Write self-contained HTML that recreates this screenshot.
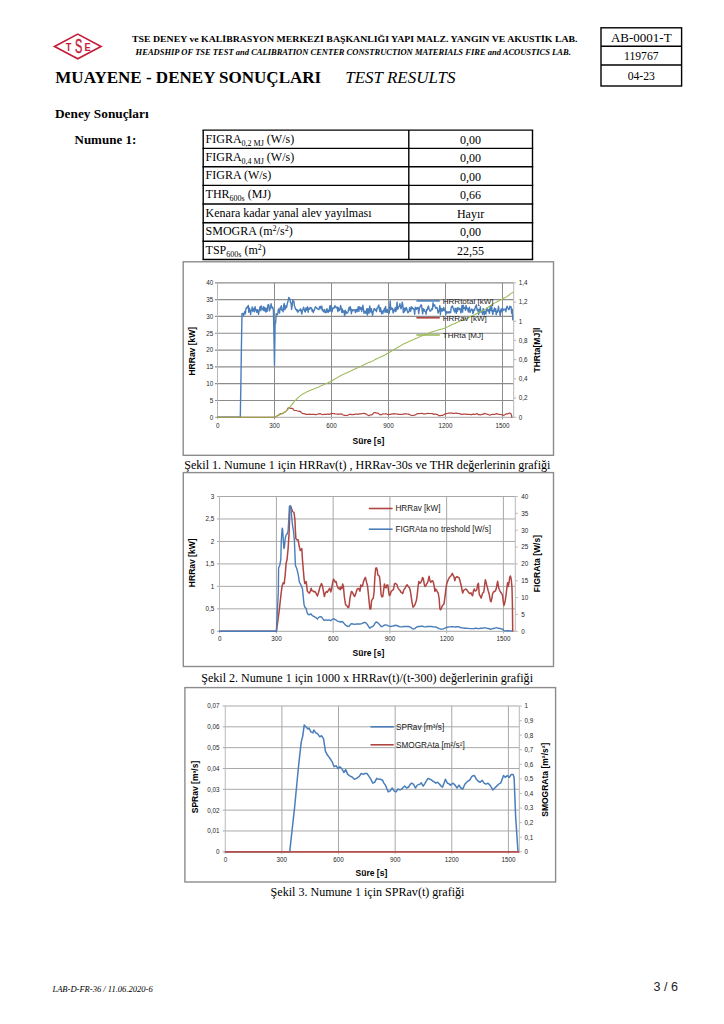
<!DOCTYPE html>
<html lang="tr"><head><meta charset="utf-8"><title>Muayene - Deney Sonuçları</title>
<style>
html,body{margin:0;padding:0;background:#fff;}
#pg{position:relative;width:724px;height:1024px;overflow:hidden;background:#fff;}
svg{position:absolute;left:0;top:0;display:block;}
</style></head><body><div id="pg">
<svg width="724" height="1024" viewBox="0 0 724 1024">
<g>
<polygon points="54.5,46.45 77.75,34.1 101.0,46.45 77.75,58.8" fill="none" stroke="#c41e3a" stroke-width="1.7"/>
<text transform="translate(68.6,50.9) scale(0.82,1)" font-size="11.3" font-family='"Liberation Sans", Arial, sans-serif' font-weight="bold" text-anchor="middle" fill="#c41e3a">T</text>
<text transform="translate(78.6,53.2) scale(0.56,1)" font-size="19.5" font-family='"Liberation Sans", Arial, sans-serif' text-anchor="middle" fill="#c41e3a" stroke="#c41e3a" stroke-width="0.5">S</text>
<text transform="translate(87.5,50.9) scale(0.82,1)" font-size="11.3" font-family='"Liberation Sans", Arial, sans-serif' font-weight="bold" text-anchor="middle" fill="#c41e3a">E</text>
</g>
<text x="132" y="41.6" font-size="8.7" font-family='"Liberation Serif", "Times New Roman", serif' font-weight="bold" textLength="445.5" lengthAdjust="spacingAndGlyphs" fill="#000">TSE DENEY ve KALİBRASYON MERKEZİ BAŞKANLIĞI YAPI MALZ. YANGIN VE AKUSTİK LAB.</text>
<text x="135.6" y="54.7" font-size="7.9" font-family='"Liberation Serif", "Times New Roman", serif' font-weight="bold" font-style="italic" textLength="435.2" lengthAdjust="spacingAndGlyphs" fill="#000">HEADSHIP OF TSE TEST and CALIBRATION CENTER CONSTRUCTION MATERIALS FIRE and ACOUSTICS LAB.</text>
<rect x="601" y="27.8" width="80.6" height="58.2" stroke="#000" stroke-width="1.4" fill="none"/>
<line x1="601" y1="46.2" x2="681.6" y2="46.2" stroke="#000" stroke-width="1.4"/>
<line x1="601" y1="65.0" x2="681.6" y2="65.0" stroke="#000" stroke-width="1.4"/>
<text x="641.3" y="41.8" font-size="13" font-family='"Liberation Serif", "Times New Roman", serif' text-anchor="middle" fill="#000">AB-0001-T</text>
<text x="641.3" y="59.7" font-size="11.7" font-family='"Liberation Serif", "Times New Roman", serif' text-anchor="middle" fill="#000">119767</text>
<text x="641.3" y="79.5" font-size="11.7" font-family='"Liberation Serif", "Times New Roman", serif' text-anchor="middle" fill="#000">04-23</text>
<text x="55.3" y="82.7" font-size="16" font-family='"Liberation Serif", "Times New Roman", serif' font-weight="bold" textLength="265.9" lengthAdjust="spacingAndGlyphs" fill="#000">MUAYENE - DENEY SONUÇLARI</text>
<text x="345.3" y="82.7" font-size="16.5" font-family='"Liberation Serif", "Times New Roman", serif' font-style="italic" textLength="110.1" lengthAdjust="spacingAndGlyphs" fill="#000">TEST RESULTS</text>
<text x="55" y="117.5" font-size="13" font-family='"Liberation Serif", "Times New Roman", serif' font-weight="bold" textLength="93.6" lengthAdjust="spacingAndGlyphs" fill="#000">Deney Sonuçları</text>
<text x="74.5" y="143.8" font-size="13" font-family='"Liberation Serif", "Times New Roman", serif' font-weight="bold" fill="#000">Numune 1:</text>
<line x1="202.5" y1="130.1" x2="533.2" y2="130.1" stroke="#000" stroke-width="1.4"/>
<line x1="202.5" y1="148.4" x2="533.2" y2="148.4" stroke="#000" stroke-width="1.4"/>
<line x1="202.5" y1="166.8" x2="533.2" y2="166.8" stroke="#000" stroke-width="1.4"/>
<line x1="202.5" y1="185.4" x2="533.2" y2="185.4" stroke="#000" stroke-width="1.4"/>
<line x1="202.5" y1="204.0" x2="533.2" y2="204.0" stroke="#000" stroke-width="1.4"/>
<line x1="202.5" y1="222.7" x2="533.2" y2="222.7" stroke="#000" stroke-width="1.4"/>
<line x1="202.5" y1="241.3" x2="533.2" y2="241.3" stroke="#000" stroke-width="1.4"/>
<line x1="202.5" y1="259.5" x2="533.2" y2="259.5" stroke="#000" stroke-width="1.4"/>
<line x1="203.2" y1="130.1" x2="203.2" y2="259.5" stroke="#000" stroke-width="1.4"/>
<line x1="408.8" y1="130.1" x2="408.8" y2="259.5" stroke="#000" stroke-width="1.4"/>
<line x1="532.5" y1="130.1" x2="532.5" y2="259.5" stroke="#000" stroke-width="1.4"/>
<text x="205.6" y="142.7" font-size="12" font-family='"Liberation Serif", "Times New Roman", serif' fill="#000">FIGRA<tspan font-size="8" dy="3">0,2 MJ</tspan><tspan dy="-3"> (W/s)</tspan></text>
<text x="470.6" y="143.79999999999998" font-size="12" font-family='"Liberation Serif", "Times New Roman", serif' text-anchor="middle" fill="#000">0,00</text>
<text x="205.6" y="161.0" font-size="12" font-family='"Liberation Serif", "Times New Roman", serif' fill="#000">FIGRA<tspan font-size="8" dy="3">0,4 MJ</tspan><tspan dy="-3"> (W/s)</tspan></text>
<text x="470.6" y="162.1" font-size="12" font-family='"Liberation Serif", "Times New Roman", serif' text-anchor="middle" fill="#000">0,00</text>
<text x="205.6" y="179.4" font-size="12" font-family='"Liberation Serif", "Times New Roman", serif' fill="#000">FIGRA (W/s)</text>
<text x="470.6" y="180.5" font-size="12" font-family='"Liberation Serif", "Times New Roman", serif' text-anchor="middle" fill="#000">0,00</text>
<text x="205.6" y="198.0" font-size="12" font-family='"Liberation Serif", "Times New Roman", serif' fill="#000">THR<tspan font-size="8" dy="3">600s</tspan><tspan dy="-3"> (MJ)</tspan></text>
<text x="470.6" y="199.1" font-size="12" font-family='"Liberation Serif", "Times New Roman", serif' text-anchor="middle" fill="#000">0,66</text>
<text x="205.6" y="216.6" font-size="12" font-family='"Liberation Serif", "Times New Roman", serif' fill="#000">Kenara kadar yanal alev yayılması</text>
<text x="470.6" y="217.7" font-size="12" font-family='"Liberation Serif", "Times New Roman", serif' text-anchor="middle" fill="#000">Hayır</text>
<text x="205.6" y="235.29999999999998" font-size="12" font-family='"Liberation Serif", "Times New Roman", serif' fill="#000">SMOGRA (m<tspan font-size="8" dy="-4">2</tspan><tspan dy="4">/s</tspan><tspan font-size="8" dy="-4">2</tspan><tspan dy="4">)</tspan></text>
<text x="470.6" y="236.39999999999998" font-size="12" font-family='"Liberation Serif", "Times New Roman", serif' text-anchor="middle" fill="#000">0,00</text>
<text x="205.6" y="253.9" font-size="12" font-family='"Liberation Serif", "Times New Roman", serif' fill="#000">TSP<tspan font-size="8" dy="3">600s</tspan><tspan dy="-3"> (m</tspan><tspan font-size="8" dy="-4">2</tspan><tspan dy="4">)</tspan></text>
<text x="470.6" y="255.0" font-size="12" font-family='"Liberation Serif", "Times New Roman", serif' text-anchor="middle" fill="#000">22,55</text>
<rect x="183.2" y="261.8" width="370.3" height="193.5" stroke="#8c8c8c" stroke-width="1.4" fill="#fff"/>
<line x1="215.0" y1="400.4875" x2="513.7" y2="400.4875" stroke="#8c8c8c" stroke-width="1.2"/>
<line x1="215.0" y1="383.675" x2="513.7" y2="383.675" stroke="#8c8c8c" stroke-width="1.2"/>
<line x1="215.0" y1="366.8625" x2="513.7" y2="366.8625" stroke="#8c8c8c" stroke-width="1.2"/>
<line x1="215.0" y1="350.05" x2="513.7" y2="350.05" stroke="#8c8c8c" stroke-width="1.2"/>
<line x1="215.0" y1="333.2375" x2="513.7" y2="333.2375" stroke="#8c8c8c" stroke-width="1.2"/>
<line x1="215.0" y1="316.425" x2="513.7" y2="316.425" stroke="#8c8c8c" stroke-width="1.2"/>
<line x1="215.0" y1="299.6125" x2="513.7" y2="299.6125" stroke="#8c8c8c" stroke-width="1.2"/>
<line x1="215.0" y1="282.8" x2="513.7" y2="282.8" stroke="#8c8c8c" stroke-width="1.2"/>
<line x1="274.5" y1="282.8" x2="274.5" y2="419.3" stroke="#8c8c8c" stroke-width="1"/>
<line x1="331.5" y1="282.8" x2="331.5" y2="419.3" stroke="#8c8c8c" stroke-width="1"/>
<line x1="388.5" y1="282.8" x2="388.5" y2="419.3" stroke="#8c8c8c" stroke-width="1"/>
<line x1="445.5" y1="282.8" x2="445.5" y2="419.3" stroke="#8c8c8c" stroke-width="1"/>
<line x1="502.5" y1="282.8" x2="502.5" y2="419.3" stroke="#8c8c8c" stroke-width="1"/>
<line x1="217.5" y1="282.8" x2="217.5" y2="417.3" stroke="#b8b8b8" stroke-width="1"/>
<line x1="513.7" y1="282.8" x2="513.7" y2="417.3" stroke="#b8b8b8" stroke-width="1"/>
<line x1="215.0" y1="417.3" x2="513.7" y2="417.3" stroke="#b8b8b8" stroke-width="1.2"/>
<line x1="217.5" y1="417.3" x2="217.5" y2="419.3" stroke="#b8b8b8" stroke-width="1"/>
<line x1="513.7" y1="417.3" x2="516.2" y2="417.3" stroke="#b8b8b8" stroke-width="1"/>
<line x1="513.7" y1="398.086" x2="516.2" y2="398.086" stroke="#b8b8b8" stroke-width="1"/>
<line x1="513.7" y1="378.872" x2="516.2" y2="378.872" stroke="#b8b8b8" stroke-width="1"/>
<line x1="513.7" y1="359.658" x2="516.2" y2="359.658" stroke="#b8b8b8" stroke-width="1"/>
<line x1="513.7" y1="340.444" x2="516.2" y2="340.444" stroke="#b8b8b8" stroke-width="1"/>
<line x1="513.7" y1="321.23" x2="516.2" y2="321.23" stroke="#b8b8b8" stroke-width="1"/>
<line x1="513.7" y1="302.016" x2="516.2" y2="302.016" stroke="#b8b8b8" stroke-width="1"/>
<line x1="513.7" y1="282.802" x2="516.2" y2="282.802" stroke="#b8b8b8" stroke-width="1"/>
<text x="213.2" y="419.7" font-size="6.3" font-family='"Liberation Sans", Arial, sans-serif' text-anchor="end" fill="#262626">0</text>
<text x="213.2" y="402.89" font-size="6.3" font-family='"Liberation Sans", Arial, sans-serif' text-anchor="end" fill="#262626">5</text>
<text x="213.2" y="386.07" font-size="6.3" font-family='"Liberation Sans", Arial, sans-serif' text-anchor="end" fill="#262626">10</text>
<text x="213.2" y="369.26" font-size="6.3" font-family='"Liberation Sans", Arial, sans-serif' text-anchor="end" fill="#262626">15</text>
<text x="213.2" y="352.45" font-size="6.3" font-family='"Liberation Sans", Arial, sans-serif' text-anchor="end" fill="#262626">20</text>
<text x="213.2" y="335.64" font-size="6.3" font-family='"Liberation Sans", Arial, sans-serif' text-anchor="end" fill="#262626">25</text>
<text x="213.2" y="318.82" font-size="6.3" font-family='"Liberation Sans", Arial, sans-serif' text-anchor="end" fill="#262626">30</text>
<text x="213.2" y="302.01" font-size="6.3" font-family='"Liberation Sans", Arial, sans-serif' text-anchor="end" fill="#262626">35</text>
<text x="213.2" y="285.2" font-size="6.3" font-family='"Liberation Sans", Arial, sans-serif' text-anchor="end" fill="#262626">40</text>
<text x="518.8" y="419.7" font-size="6.3" font-family='"Liberation Sans", Arial, sans-serif' fill="#262626">0</text>
<text x="518.8" y="400.49" font-size="6.3" font-family='"Liberation Sans", Arial, sans-serif' fill="#262626">0,2</text>
<text x="518.8" y="381.27" font-size="6.3" font-family='"Liberation Sans", Arial, sans-serif' fill="#262626">0,4</text>
<text x="518.8" y="362.06" font-size="6.3" font-family='"Liberation Sans", Arial, sans-serif' fill="#262626">0,6</text>
<text x="518.8" y="342.84" font-size="6.3" font-family='"Liberation Sans", Arial, sans-serif' fill="#262626">0,8</text>
<text x="518.8" y="323.63" font-size="6.3" font-family='"Liberation Sans", Arial, sans-serif' fill="#262626">1</text>
<text x="518.8" y="304.42" font-size="6.3" font-family='"Liberation Sans", Arial, sans-serif' fill="#262626">1,2</text>
<text x="518.8" y="285.2" font-size="6.3" font-family='"Liberation Sans", Arial, sans-serif' fill="#262626">1,4</text>
<text x="217.7" y="427.6" font-size="6.3" font-family='"Liberation Sans", Arial, sans-serif' text-anchor="middle" fill="#262626">0</text>
<text x="274.5" y="427.6" font-size="6.3" font-family='"Liberation Sans", Arial, sans-serif' text-anchor="middle" fill="#262626">300</text>
<text x="331.5" y="427.6" font-size="6.3" font-family='"Liberation Sans", Arial, sans-serif' text-anchor="middle" fill="#262626">600</text>
<text x="388.5" y="427.6" font-size="6.3" font-family='"Liberation Sans", Arial, sans-serif' text-anchor="middle" fill="#262626">900</text>
<text x="445.5" y="427.6" font-size="6.3" font-family='"Liberation Sans", Arial, sans-serif' text-anchor="middle" fill="#262626">1200</text>
<text x="502.5" y="427.6" font-size="6.3" font-family='"Liberation Sans", Arial, sans-serif' text-anchor="middle" fill="#262626">1500</text>
<text x="368.4" y="444.0" font-size="8.5" font-family='"Liberation Sans", Arial, sans-serif' font-weight="bold" text-anchor="middle" fill="#000">Süre [s]</text>
<g transform="translate(194.6,351.2) rotate(-90)">
<text x="0" y="0" font-size="8.5" font-family='"Liberation Sans", Arial, sans-serif' font-weight="bold" text-anchor="middle" fill="#000">HRRav [kW]</text>
</g>
<g transform="translate(539.9,350.1) rotate(-90)">
<text x="0" y="0" font-size="8.5" font-family='"Liberation Sans", Arial, sans-serif' font-weight="bold" text-anchor="middle" fill="#000">THRta[MJ]l</text>
</g>
<polyline points="217.5,417.3 218.1,417.3 218.6,417.3 219.2,417.3 219.8,417.3 220.3,417.3 220.9,417.3 221.5,417.3 222.1,417.3 222.6,417.3 223.2,417.3 223.8,417.3 224.3,417.3 224.9,417.3 225.5,417.3 226.1,417.3 226.6,417.3 227.2,417.3 227.8,417.3 228.3,417.3 228.9,417.3 229.5,417.3 230.0,417.3 230.6,417.3 231.2,417.3 231.8,417.3 232.3,417.3 232.9,417.3 233.5,417.3 234.0,417.3 234.6,417.3 235.2,417.3 235.7,417.3 236.3,417.3 236.9,417.3 237.4,417.3 238.0,417.3 238.6,417.3 239.2,417.3 239.7,417.3 240.3,417.3 240.9,382.6 241.4,347.8 242.0,313.6 242.6,313.5 243.2,313.6 243.7,315.7 244.3,312.8 244.9,311.4 245.4,313.7 246.0,308.3 246.6,307.5 247.1,307.9 247.7,306.6 248.3,305.4 248.8,312.2 249.4,308.3 250.0,310.0 250.6,314.5 251.1,310.2 251.7,310.2 252.3,307.0 252.8,311.6 253.4,309.2 254.0,308.3 254.6,311.8 255.1,306.6 255.7,310.0 256.3,309.7 256.8,312.4 257.4,309.6 258.0,310.5 258.5,314.3 259.1,311.1 259.7,308.5 260.2,306.5 260.8,310.7 261.4,305.9 262.0,308.7 262.5,309.0 263.1,310.2 263.7,306.6 264.2,311.0 264.8,307.6 265.4,308.4 265.9,312.1 266.5,308.4 267.1,311.4 267.7,305.9 268.2,304.5 268.8,305.1 269.4,310.9 269.9,309.6 270.5,306.9 271.1,303.8 271.6,306.3 272.2,308.2 272.8,307.4 273.4,310.3 273.9,333.2 274.5,365.2 275.1,323.2 275.6,323.2 276.2,313.8 276.8,314.0 277.4,314.7 277.9,312.7 278.5,308.9 279.1,310.5 279.6,313.0 280.2,307.4 280.8,309.0 281.3,305.8 281.9,310.4 282.5,309.8 283.1,311.9 283.6,305.7 284.2,303.5 284.8,309.8 285.3,308.5 285.9,305.8 286.5,307.5 287.0,305.4 287.6,302.7 288.2,300.4 288.8,297.4 289.3,298.0 289.9,299.1 290.5,302.7 291.0,302.6 291.6,309.4 292.2,305.4 292.7,300.3 293.3,302.4 293.9,301.2 294.4,306.0 295.0,307.3 295.6,309.2 296.2,309.1 296.7,310.9 297.3,309.8 297.9,312.3 298.4,311.1 299.0,310.3 299.6,310.6 300.1,309.3 300.7,308.9 301.3,312.0 301.9,314.0 302.4,310.3 303.0,309.7 303.6,307.1 304.1,309.1 304.7,311.3 305.3,311.9 305.9,307.9 306.4,310.3 307.0,307.8 307.6,306.8 308.1,312.3 308.7,308.4 309.3,308.2 309.8,309.3 310.4,307.4 311.0,308.1 311.6,308.0 312.1,311.2 312.7,309.6 313.3,312.5 313.8,310.9 314.4,310.2 315.0,307.7 315.5,306.7 316.1,307.2 316.7,308.4 317.2,308.5 317.8,309.1 318.4,309.1 319.0,309.6 319.5,306.6 320.1,307.7 320.7,306.4 321.2,308.8 321.8,306.2 322.4,310.7 322.9,309.9 323.5,311.1 324.1,312.2 324.7,309.4 325.2,311.8 325.8,312.7 326.4,312.2 326.9,308.6 327.5,310.2 328.1,312.6 328.6,310.2 329.2,311.4 329.8,305.9 330.4,311.0 330.9,305.5 331.5,307.0 332.1,311.7 332.6,308.9 333.2,308.0 333.8,308.2 334.4,307.5 334.9,305.6 335.5,306.6 336.1,307.8 336.6,307.7 337.2,307.0 337.8,311.6 338.3,307.6 338.9,309.8 339.5,310.4 340.1,308.4 340.6,305.4 341.2,308.4 341.8,312.3 342.3,308.9 342.9,312.3 343.5,310.9 344.0,311.1 344.6,315.8 345.2,310.1 345.8,313.8 346.3,311.8 346.9,312.8 347.5,313.0 348.0,312.0 348.6,309.3 349.2,307.2 349.7,310.0 350.3,306.8 350.9,309.5 351.4,313.7 352.0,309.5 352.6,310.5 353.2,310.8 353.7,309.7 354.3,309.7 354.9,310.2 355.4,312.5 356.0,309.4 356.6,309.4 357.1,311.8 357.7,309.2 358.3,306.8 358.9,311.4 359.4,306.9 360.0,307.4 360.6,309.3 361.1,307.6 361.7,311.5 362.3,307.9 362.9,305.3 363.4,308.9 364.0,313.2 364.6,312.1 365.1,311.1 365.7,313.2 366.3,313.4 366.8,308.7 367.4,315.1 368.0,308.6 368.6,310.5 369.1,313.3 369.7,306.0 370.3,308.8 370.8,312.1 371.4,308.7 372.0,312.4 372.5,315.4 373.1,312.3 373.7,309.9 374.2,308.4 374.8,309.3 375.4,310.4 376.0,309.2 376.5,311.6 377.1,308.1 377.7,307.7 378.2,306.4 378.8,305.0 379.4,309.3 379.9,311.6 380.5,307.6 381.1,310.9 381.7,313.7 382.2,311.3 382.8,313.5 383.4,310.5 383.9,310.9 384.5,308.2 385.1,312.4 385.6,306.5 386.2,310.8 386.8,312.3 387.4,309.5 387.9,312.4 388.5,311.6 389.1,313.5 389.6,309.4 390.2,300.9 390.8,309.8 391.4,307.8 391.9,309.1 392.5,308.3 393.1,313.0 393.6,311.9 394.2,309.4 394.8,310.9 395.3,307.5 395.9,311.6 396.5,308.9 397.1,302.1 397.6,309.3 398.2,308.3 398.8,306.9 399.3,306.5 399.9,303.6 400.5,306.9 401.0,308.7 401.6,306.8 402.2,302.1 402.8,304.6 403.3,312.7 403.9,308.1 404.5,311.8 405.0,308.2 405.6,310.2 406.2,307.4 406.7,308.6 407.3,310.8 407.9,312.8 408.4,311.9 409.0,311.8 409.6,307.7 410.2,309.6 410.7,311.2 411.3,306.8 411.9,308.7 412.4,307.4 413.0,308.9 413.6,308.8 414.1,310.1 414.7,314.3 415.3,307.2 415.9,307.8 416.4,309.4 417.0,307.6 417.6,308.5 418.1,307.4 418.7,313.6 419.3,309.0 419.9,307.1 420.4,306.1 421.0,304.8 421.6,305.5 422.1,310.1 422.7,313.8 423.3,308.6 423.8,310.9 424.4,309.6 425.0,311.6 425.6,311.6 426.1,314.2 426.7,309.4 427.3,309.8 427.8,307.3 428.4,306.0 429.0,308.9 429.5,310.0 430.1,311.2 430.7,311.0 431.2,309.8 431.8,308.7 432.4,309.5 433.0,302.7 433.5,306.2 434.1,305.0 434.7,304.9 435.2,306.9 435.8,308.4 436.4,307.6 436.9,307.5 437.5,309.6 438.1,313.1 438.7,311.5 439.2,310.4 439.8,305.6 440.4,314.8 440.9,308.1 441.5,311.0 442.1,308.7 442.6,311.0 443.2,309.9 443.8,307.4 444.4,310.5 444.9,309.6 445.5,311.6 446.1,314.1 446.6,311.5 447.2,312.0 447.8,312.7 448.4,311.9 448.9,313.0 449.5,311.7 450.1,312.6 450.6,312.6 451.2,307.3 451.8,307.4 452.3,305.8 452.9,307.2 453.5,309.2 454.1,310.7 454.6,312.1 455.2,308.2 455.8,309.9 456.3,313.4 456.9,308.3 457.5,311.2 458.0,307.4 458.6,308.9 459.2,309.5 459.8,308.3 460.3,309.6 460.9,313.0 461.5,309.2 462.0,305.4 462.6,312.1 463.2,305.1 463.7,308.6 464.3,307.6 464.9,307.4 465.5,310.4 466.0,305.4 466.6,307.8 467.2,309.2 467.7,308.5 468.3,312.0 468.9,308.6 469.4,307.2 470.0,312.5 470.6,310.5 471.1,310.3 471.7,309.0 472.3,309.6 472.9,313.5 473.4,312.4 474.0,309.4 474.6,310.2 475.1,307.8 475.7,306.7 476.3,304.9 476.9,309.0 477.4,310.6 478.0,309.3 478.6,314.3 479.1,309.4 479.7,312.7 480.3,306.8 480.8,311.3 481.4,312.0 482.0,311.4 482.6,314.3 483.1,308.6 483.7,309.3 484.3,314.9 484.8,312.6 485.4,311.4 486.0,313.7 486.5,308.4 487.1,308.2 487.7,310.6 488.2,311.4 488.8,309.5 489.4,313.4 490.0,307.7 490.5,306.0 491.1,310.6 491.7,306.8 492.2,311.7 492.8,314.4 493.4,310.1 493.9,311.2 494.5,308.0 495.1,311.4 495.7,308.8 496.2,314.7 496.8,311.1 497.4,312.4 497.9,310.5 498.5,306.3 499.1,311.0 499.6,311.8 500.2,315.6 500.8,309.7 501.4,308.9 501.9,311.9 502.5,308.1 503.1,310.5 503.6,309.4 504.2,309.9 504.8,309.1 505.4,308.9 505.9,311.7 506.5,308.0 507.1,306.1 507.6,307.9 508.2,308.2 508.8,309.7 509.3,309.0 509.9,306.2 510.5,306.7 511.1,307.0 511.6,313.2 512.2,309.1 512.8,319.8" fill="none" stroke="#4a7ebb" stroke-width="1.4" stroke-linejoin="round" stroke-linecap="round"/>
<polyline points="217.5,417.3 274.5,417.3 277.4,415.7 279.4,414.4 280.4,413.9 281.3,413.7 282.3,413.7 283.3,413.1 284.3,412.2 285.3,411.9 286.2,411.1 287.2,409.9 287.7,408.7 288.0,408.0 288.7,407.9 289.7,408.1 290.7,408.3 292.1,408.4 293.1,408.9 293.6,409.8 294.1,410.4 295.1,410.5 296.3,410.5 297.5,411.0 298.5,411.3 300.0,411.1 300.7,412.0 301.5,412.7 302.4,413.4 303.0,413.7 303.6,413.6 304.4,413.6 304.9,413.8 305.5,414.3 306.5,414.4 307.8,414.4 308.6,414.3 309.4,414.1 310.3,414.3 311.5,414.3 312.4,414.4 313.2,414.3 314.0,414.4 315.7,414.7 316.9,414.4 318.2,414.0 319.8,413.7 320.7,413.9 321.5,414.2 322.8,414.7 323.6,414.4 324.8,414.3 325.7,414.4 326.5,414.3 327.3,414.2 328.2,414.1 329.0,414.4 329.8,414.2 331.1,413.6 331.9,413.4 332.7,413.5 333.6,413.6 334.4,413.6 335.2,413.8 336.1,414.0 336.9,414.1 337.7,414.0 338.6,414.2 339.4,414.0 340.2,414.1 341.1,413.8 341.9,414.0 342.7,414.7 344.0,415.3 345.2,415.4 346.5,415.5 347.3,415.5 348.6,414.8 349.8,414.3 350.6,414.4 351.9,414.6 353.1,414.7 354.4,414.4 355.6,414.1 357.3,414.1 358.5,414.3 359.3,413.8 360.1,413.9 361.0,413.9 361.8,413.6 362.6,413.5 363.9,413.3 365.1,413.6 366.0,413.9 366.8,414.4 367.6,415.1 368.5,415.6 369.3,415.6 370.1,415.0 371.0,414.9 371.8,414.8 372.6,414.3 373.4,413.2 374.3,412.6 375.1,412.6 375.9,412.8 376.4,413.1 377.2,413.1 378.0,413.2 378.9,413.8 379.7,414.6 380.5,414.7 381.4,414.7 382.2,414.3 383.0,413.8 383.9,414.0 384.7,414.0 385.5,413.8 386.4,413.8 387.2,414.3 388.0,414.6 388.8,414.6 389.7,414.3 390.5,414.3 391.3,414.2 392.2,414.1 393.0,413.8 393.8,413.7 394.7,413.8 395.5,413.8 396.3,414.0 397.2,414.1 398.0,414.2 398.8,414.3 399.7,414.4 400.5,414.4 401.3,414.5 402.2,414.3 403.0,414.1 403.8,414.1 404.7,413.9 405.9,413.8 406.7,413.9 407.6,414.0 408.4,414.1 409.2,414.4 410.1,414.8 410.9,415.2 411.7,415.5 412.6,415.4 413.4,415.3 414.2,415.2 415.1,415.0 415.9,414.6 416.7,414.0 417.6,413.6 418.7,413.7 419.6,413.6 420.4,413.5 421.2,413.3 422.1,413.4 422.9,413.7 423.7,413.9 424.6,413.9 425.4,413.8 426.2,413.7 427.1,413.5 427.9,413.2 428.7,413.5 429.5,413.6 430.4,413.5 431.2,413.5 432.0,413.6 432.9,413.9 433.7,414.3 434.5,414.1 435.4,414.2 436.2,414.4 437.0,414.4 437.9,414.8 438.7,415.6 439.5,415.7 440.4,415.6 441.2,415.4 442.0,415.3 442.9,415.3 443.7,414.8 444.5,414.3 445.4,413.8 446.2,413.6 447.0,413.5 447.9,413.3 448.7,413.2 449.5,413.2 450.4,413.1 451.2,413.0 452.0,413.1 452.9,413.2 453.7,413.5 454.5,413.3 455.4,413.2 456.2,413.2 457.0,413.3 457.9,413.3 458.7,413.5 459.5,413.7 460.3,413.9 461.2,414.3 461.6,414.4 462.4,414.3 463.3,414.2 464.1,414.2 464.9,414.1 465.8,414.2 466.6,414.3 467.4,414.4 468.3,414.4 469.1,414.5 469.9,414.4 470.8,414.6 471.6,414.6 472.4,414.3 473.2,414.1 474.1,414.3 474.9,414.3 475.7,414.2 476.6,413.8 477.4,413.7 478.2,414.6 478.8,414.6 479.5,414.7 480.2,414.8 481.0,414.6 481.7,414.4 482.8,414.4 483.5,413.9 484.3,413.4 485.0,413.6 485.7,413.8 486.5,414.0 487.2,414.3 488.0,414.4 488.7,414.7 489.4,415.0 490.2,415.1 490.9,414.8 491.6,414.5 492.4,414.4 493.5,414.3 494.6,414.3 495.3,414.1 496.1,413.8 496.8,413.6 497.5,414.0 498.3,414.2 499.0,414.3 499.7,414.4 500.8,414.5 501.6,414.6 502.3,415.0 503.0,415.4 503.8,415.2 504.5,414.9 505.3,414.5 506.0,414.0 506.7,413.7 507.5,413.9 508.2,413.6 508.9,413.2 509.7,413.2 510.4,413.4 511.1,414.0 511.5,415.3 511.9,417.3" fill="none" stroke="#b04542" stroke-width="1.2" stroke-linejoin="round" stroke-linecap="round"/>
<polyline points="217.5,417.3 218.1,417.3 218.6,417.3 219.2,417.3 219.8,417.3 220.3,417.3 220.9,417.3 221.5,417.3 222.1,417.3 222.6,417.3 223.2,417.3 223.8,417.3 224.3,417.3 224.9,417.3 225.5,417.3 226.1,417.3 226.6,417.3 227.2,417.3 227.8,417.3 228.3,417.3 228.9,417.3 229.5,417.3 230.0,417.3 230.6,417.3 231.2,417.3 231.8,417.3 232.3,417.3 232.9,417.3 233.5,417.3 234.0,417.3 234.6,417.3 235.2,417.3 235.7,417.3 236.3,417.3 236.9,417.3 237.4,417.3 238.0,417.3 238.6,417.3 239.2,417.3 239.7,417.3 240.3,417.3 240.9,417.3 241.4,417.3 242.0,417.3 242.6,417.3 243.2,417.3 243.7,417.3 244.3,417.3 244.9,417.3 245.4,417.3 246.0,417.3 246.6,417.3 247.1,417.3 247.7,417.3 248.3,417.3 248.8,417.3 249.4,417.3 250.0,417.3 250.6,417.3 251.1,417.3 251.7,417.3 252.3,417.3 252.8,417.3 253.4,417.3 254.0,417.3 254.6,417.3 255.1,417.3 255.7,417.3 256.3,417.3 256.8,417.3 257.4,417.3 258.0,417.3 258.5,417.3 259.1,417.3 259.7,417.3 260.2,417.3 260.8,417.3 261.4,417.3 262.0,417.3 262.5,417.3 263.1,417.3 263.7,417.3 264.2,417.3 264.8,417.3 265.4,417.3 265.9,417.3 266.5,417.3 267.1,417.3 267.7,417.3 268.2,417.3 268.8,417.3 269.4,417.3 269.9,417.3 270.5,417.3 271.1,417.3 271.6,417.3 272.2,417.3 272.8,417.3 273.4,417.3 273.9,417.3 274.5,417.3 275.1,417.0 275.6,416.7 276.2,416.4 276.8,416.1 277.4,415.8 277.9,415.5 278.5,415.2 279.1,415.0 279.6,414.7 280.2,414.5 280.8,414.2 281.3,413.9 281.9,413.6 282.5,413.3 283.1,413.1 283.6,412.8 284.2,412.5 284.8,412.1 285.3,411.6 285.9,411.2 286.5,410.7 287.0,410.2 287.6,409.6 288.2,409.0 288.8,408.5 289.3,407.9 289.9,407.1 290.5,406.4 291.0,405.7 291.6,404.9 292.2,404.2 292.7,403.4 293.3,402.7 293.9,402.0 294.4,401.3 295.0,400.6 295.6,400.1 296.2,399.5 296.7,399.0 297.3,398.4 297.9,397.9 298.4,397.3 299.0,396.8 299.6,396.3 300.1,395.9 300.7,395.4 301.3,395.0 301.9,394.6 302.4,394.3 303.0,393.9 303.6,393.5 304.1,393.2 304.7,392.9 305.3,392.7 305.9,392.4 306.4,392.1 307.0,391.8 307.6,391.6 308.1,391.3 308.7,391.0 309.3,390.8 309.8,390.5 310.4,390.3 311.0,390.1 311.6,389.8 312.1,389.6 312.7,389.4 313.3,389.2 313.8,388.9 314.4,388.7 315.0,388.5 315.5,388.3 316.1,388.1 316.7,387.9 317.2,387.6 317.8,387.4 318.4,387.2 319.0,386.9 319.5,386.6 320.1,386.3 320.7,386.0 321.2,385.8 321.8,385.5 322.4,385.3 322.9,385.0 323.5,384.8 324.1,384.5 324.7,384.3 325.2,384.0 325.8,383.7 326.4,383.5 326.9,383.2 327.5,383.0 328.1,382.7 328.6,382.4 329.2,382.1 329.8,381.9 330.4,381.6 330.9,381.3 331.5,381.0 332.1,380.7 332.6,380.3 333.2,380.0 333.8,379.6 334.4,379.3 334.9,379.0 335.5,378.6 336.1,378.3 336.6,378.0 337.2,377.6 337.8,377.3 338.3,377.0 338.9,376.6 339.5,376.3 340.1,376.0 340.6,375.7 341.2,375.4 341.8,375.1 342.3,374.8 342.9,374.5 343.5,374.3 344.0,374.0 344.6,373.8 345.2,373.5 345.8,373.3 346.3,373.0 346.9,372.8 347.5,372.6 348.0,372.3 348.6,372.0 349.2,371.8 349.7,371.5 350.3,371.2 350.9,370.9 351.4,370.6 352.0,370.4 352.6,370.1 353.2,369.8 353.7,369.6 354.3,369.3 354.9,369.1 355.4,368.8 356.0,368.5 356.6,368.2 357.1,368.0 357.7,367.7 358.3,367.5 358.9,367.2 359.4,366.9 360.0,366.7 360.6,366.4 361.1,366.1 361.7,365.9 362.3,365.6 362.9,365.3 363.4,365.0 364.0,364.7 364.6,364.5 365.1,364.2 365.7,363.9 366.3,363.6 366.8,363.3 367.4,363.1 368.0,362.8 368.6,362.6 369.1,362.4 369.7,362.2 370.3,361.9 370.8,361.7 371.4,361.4 372.0,361.2 372.5,360.9 373.1,360.7 373.7,360.4 374.2,360.1 374.8,359.7 375.4,359.4 376.0,359.1 376.5,358.9 377.1,358.6 377.7,358.3 378.2,358.0 378.8,357.7 379.4,357.5 379.9,357.3 380.5,357.0 381.1,356.8 381.7,356.6 382.2,356.3 382.8,356.0 383.4,355.7 383.9,355.5 384.5,355.2 385.1,354.9 385.6,354.5 386.2,354.2 386.8,353.8 387.4,353.5 387.9,353.2 388.5,352.9 389.1,352.5 389.6,352.2 390.2,351.9 390.8,351.5 391.4,351.2 391.9,350.9 392.5,350.5 393.1,350.2 393.6,349.8 394.2,349.5 394.8,349.1 395.3,348.8 395.9,348.4 396.5,348.1 397.1,347.8 397.6,347.4 398.2,347.1 398.8,346.8 399.3,346.4 399.9,346.1 400.5,345.8 401.0,345.4 401.6,345.1 402.2,344.8 402.8,344.4 403.3,344.1 403.9,343.9 404.5,343.6 405.0,343.4 405.6,343.1 406.2,342.8 406.7,342.5 407.3,342.3 407.9,342.0 408.4,341.7 409.0,341.5 409.6,341.2 410.2,340.9 410.7,340.7 411.3,340.5 411.9,340.2 412.4,340.0 413.0,339.8 413.6,339.5 414.1,339.3 414.7,339.0 415.3,338.8 415.9,338.5 416.4,338.3 417.0,338.0 417.6,337.7 418.1,337.5 418.7,337.2 419.3,336.9 419.9,336.7 420.4,336.4 421.0,336.1 421.6,335.9 422.1,335.7 422.7,335.4 423.3,335.2 423.8,335.0 424.4,334.8 425.0,334.6 425.6,334.3 426.1,334.1 426.7,333.9 427.3,333.7 427.8,333.4 428.4,333.2 429.0,332.9 429.5,332.7 430.1,332.5 430.7,332.3 431.2,332.1 431.8,331.9 432.4,331.8 433.0,331.6 433.5,331.4 434.1,331.3 434.7,331.1 435.2,330.9 435.8,330.7 436.4,330.5 436.9,330.3 437.5,330.2 438.1,330.0 438.7,329.8 439.2,329.7 439.8,329.5 440.4,329.4 440.9,329.2 441.5,329.1 442.1,328.9 442.6,328.7 443.2,328.6 443.8,328.4 444.4,328.2 444.9,328.0 445.5,327.7 446.1,327.5 446.6,327.2 447.2,326.9 447.8,326.7 448.4,326.4 448.9,326.1 449.5,325.9 450.1,325.6 450.6,325.4 451.2,325.1 451.8,324.8 452.3,324.6 452.9,324.3 453.5,324.1 454.1,323.9 454.6,323.6 455.2,323.4 455.8,323.1 456.3,322.8 456.9,322.6 457.5,322.3 458.0,322.0 458.6,321.8 459.2,321.5 459.8,321.3 460.3,321.0 460.9,320.8 461.5,320.5 462.0,320.3 462.6,320.0 463.2,319.8 463.7,319.5 464.3,319.3 464.9,319.0 465.5,318.8 466.0,318.5 466.6,318.2 467.2,318.0 467.7,317.7 468.3,317.5 468.9,317.2 469.4,317.0 470.0,316.7 470.6,316.5 471.1,316.2 471.7,316.0 472.3,315.7 472.9,315.5 473.4,315.2 474.0,315.0 474.6,314.7 475.1,314.4 475.7,314.1 476.3,313.9 476.9,313.5 477.4,313.2 478.0,312.9 478.6,312.7 479.1,312.4 479.7,312.1 480.3,311.9 480.8,311.6 481.4,311.3 482.0,311.1 482.6,310.8 483.1,310.5 483.7,310.2 484.3,309.9 484.8,309.6 485.4,309.3 486.0,308.9 486.5,308.4 487.1,308.0 487.7,307.6 488.2,307.2 488.8,306.7 489.4,306.3 490.0,305.9 490.5,305.5 491.1,305.1 491.7,304.7 492.2,304.3 492.8,303.9 493.4,303.6 493.9,303.3 494.5,303.0 495.1,302.8 495.7,302.5 496.2,302.2 496.8,301.9 497.4,301.6 497.9,301.3 498.5,301.0 499.1,300.7 499.6,300.4 500.2,300.1 500.8,299.8 501.4,299.6 501.9,299.3 502.5,298.9 503.1,298.6 503.6,298.3 504.2,298.0 504.8,297.7 505.4,297.4 505.9,297.1 506.5,296.7 507.1,296.4 507.6,296.0 508.2,295.7 508.8,295.3 509.3,294.9 509.9,294.1 510.5,293.7 511.1,293.4 511.6,293.1 512.2,292.7 512.8,292.4 513.3,292.1" fill="none" stroke="#9bbb59" stroke-width="1.1" stroke-linejoin="round" stroke-linecap="round"/>
<line x1="416.4" y1="300.9" x2="439.8" y2="300.9" stroke="#4a7ebb" stroke-width="1.6"/>
<text x="442.8" y="303.7" font-size="8" font-family='"Liberation Sans", Arial, sans-serif' fill="#1a1a1a">HRRtotal [kW]</text>
<line x1="416.4" y1="317.8" x2="439.8" y2="317.8" stroke="#b04542" stroke-width="1.6"/>
<text x="442.8" y="320.6" font-size="8" font-family='"Liberation Sans", Arial, sans-serif' fill="#1a1a1a">HRRav [kW]</text>
<line x1="416.4" y1="335.0" x2="439.8" y2="335.0" stroke="#9bbb59" stroke-width="1.6"/>
<text x="442.8" y="337.8" font-size="8" font-family='"Liberation Sans", Arial, sans-serif' fill="#1a1a1a">THRta [MJ]</text>
<rect x="183.3" y="472.6" width="370.2" height="193.89999999999998" stroke="#8c8c8c" stroke-width="1.4" fill="#fff"/>
<line x1="217.0" y1="608.8349999999999" x2="515.3" y2="608.8349999999999" stroke="#a8a8a8" stroke-width="1.0"/>
<line x1="217.0" y1="586.37" x2="515.3" y2="586.37" stroke="#a8a8a8" stroke-width="1.0"/>
<line x1="217.0" y1="563.905" x2="515.3" y2="563.905" stroke="#a8a8a8" stroke-width="1.0"/>
<line x1="217.0" y1="541.4399999999999" x2="515.3" y2="541.4399999999999" stroke="#a8a8a8" stroke-width="1.0"/>
<line x1="217.0" y1="518.9749999999999" x2="515.3" y2="518.9749999999999" stroke="#a8a8a8" stroke-width="1.0"/>
<line x1="217.0" y1="496.51" x2="515.3" y2="496.51" stroke="#a8a8a8" stroke-width="1.0"/>
<line x1="276.401" y1="496.5" x2="276.401" y2="633.3" stroke="#a8a8a8" stroke-width="1"/>
<line x1="333.15200000000004" y1="496.5" x2="333.15200000000004" y2="633.3" stroke="#a8a8a8" stroke-width="1"/>
<line x1="389.903" y1="496.5" x2="389.903" y2="633.3" stroke="#a8a8a8" stroke-width="1"/>
<line x1="446.654" y1="496.5" x2="446.654" y2="633.3" stroke="#a8a8a8" stroke-width="1"/>
<line x1="503.405" y1="496.5" x2="503.405" y2="633.3" stroke="#a8a8a8" stroke-width="1"/>
<line x1="219.5" y1="496.5" x2="219.5" y2="631.3" stroke="#b8b8b8" stroke-width="1"/>
<line x1="515.3" y1="496.5" x2="515.3" y2="631.3" stroke="#b8b8b8" stroke-width="1"/>
<line x1="217.0" y1="631.3" x2="515.3" y2="631.3" stroke="#b8b8b8" stroke-width="1.2"/>
<line x1="219.5" y1="631.3" x2="219.5" y2="633.3" stroke="#b8b8b8" stroke-width="1"/>
<line x1="515.3" y1="631.3" x2="517.8" y2="631.3" stroke="#b8b8b8" stroke-width="1"/>
<line x1="515.3" y1="614.4499999999999" x2="517.8" y2="614.4499999999999" stroke="#b8b8b8" stroke-width="1"/>
<line x1="515.3" y1="597.5999999999999" x2="517.8" y2="597.5999999999999" stroke="#b8b8b8" stroke-width="1"/>
<line x1="515.3" y1="580.75" x2="517.8" y2="580.75" stroke="#b8b8b8" stroke-width="1"/>
<line x1="515.3" y1="563.9" x2="517.8" y2="563.9" stroke="#b8b8b8" stroke-width="1"/>
<line x1="515.3" y1="547.05" x2="517.8" y2="547.05" stroke="#b8b8b8" stroke-width="1"/>
<line x1="515.3" y1="530.1999999999999" x2="517.8" y2="530.1999999999999" stroke="#b8b8b8" stroke-width="1"/>
<line x1="515.3" y1="513.3499999999999" x2="517.8" y2="513.3499999999999" stroke="#b8b8b8" stroke-width="1"/>
<line x1="515.3" y1="496.49999999999994" x2="517.8" y2="496.49999999999994" stroke="#b8b8b8" stroke-width="1"/>
<text x="214.2" y="633.7" font-size="6.3" font-family='"Liberation Sans", Arial, sans-serif' text-anchor="end" fill="#262626">0</text>
<text x="214.2" y="611.23" font-size="6.3" font-family='"Liberation Sans", Arial, sans-serif' text-anchor="end" fill="#262626">0,5</text>
<text x="214.2" y="588.77" font-size="6.3" font-family='"Liberation Sans", Arial, sans-serif' text-anchor="end" fill="#262626">1</text>
<text x="214.2" y="566.3" font-size="6.3" font-family='"Liberation Sans", Arial, sans-serif' text-anchor="end" fill="#262626">1,5</text>
<text x="214.2" y="543.84" font-size="6.3" font-family='"Liberation Sans", Arial, sans-serif' text-anchor="end" fill="#262626">2</text>
<text x="214.2" y="521.37" font-size="6.3" font-family='"Liberation Sans", Arial, sans-serif' text-anchor="end" fill="#262626">2,5</text>
<text x="214.2" y="498.91" font-size="6.3" font-family='"Liberation Sans", Arial, sans-serif' text-anchor="end" fill="#262626">3</text>
<text x="521.2" y="633.7" font-size="6.3" font-family='"Liberation Sans", Arial, sans-serif' fill="#262626">0</text>
<text x="521.2" y="616.85" font-size="6.3" font-family='"Liberation Sans", Arial, sans-serif' fill="#262626">5</text>
<text x="521.2" y="600.0" font-size="6.3" font-family='"Liberation Sans", Arial, sans-serif' fill="#262626">10</text>
<text x="521.2" y="583.15" font-size="6.3" font-family='"Liberation Sans", Arial, sans-serif' fill="#262626">15</text>
<text x="521.2" y="566.3" font-size="6.3" font-family='"Liberation Sans", Arial, sans-serif' fill="#262626">20</text>
<text x="521.2" y="549.45" font-size="6.3" font-family='"Liberation Sans", Arial, sans-serif' fill="#262626">25</text>
<text x="521.2" y="532.6" font-size="6.3" font-family='"Liberation Sans", Arial, sans-serif' fill="#262626">30</text>
<text x="521.2" y="515.75" font-size="6.3" font-family='"Liberation Sans", Arial, sans-serif' fill="#262626">35</text>
<text x="521.2" y="498.9" font-size="6.3" font-family='"Liberation Sans", Arial, sans-serif' fill="#262626">40</text>
<text x="219.7" y="641.0" font-size="6.3" font-family='"Liberation Sans", Arial, sans-serif' text-anchor="middle" fill="#262626">0</text>
<text x="276.4" y="641.0" font-size="6.3" font-family='"Liberation Sans", Arial, sans-serif' text-anchor="middle" fill="#262626">300</text>
<text x="333.15" y="641.0" font-size="6.3" font-family='"Liberation Sans", Arial, sans-serif' text-anchor="middle" fill="#262626">600</text>
<text x="389.9" y="641.0" font-size="6.3" font-family='"Liberation Sans", Arial, sans-serif' text-anchor="middle" fill="#262626">900</text>
<text x="446.65" y="641.0" font-size="6.3" font-family='"Liberation Sans", Arial, sans-serif' text-anchor="middle" fill="#262626">1200</text>
<text x="503.4" y="641.0" font-size="6.3" font-family='"Liberation Sans", Arial, sans-serif' text-anchor="middle" fill="#262626">1500</text>
<text x="368.4" y="655.5" font-size="8.5" font-family='"Liberation Sans", Arial, sans-serif' font-weight="bold" text-anchor="middle" fill="#000">Süre [s]</text>
<g transform="translate(195.3,562.8) rotate(-90)">
<text x="0" y="0" font-size="8.5" font-family='"Liberation Sans", Arial, sans-serif' font-weight="bold" text-anchor="middle" fill="#000">HRRav [kW]</text>
</g>
<g transform="translate(539.6,563.6) rotate(-90)">
<text x="0" y="0" font-size="8.5" font-family='"Liberation Sans", Arial, sans-serif' font-weight="bold" text-anchor="middle" fill="#000">FIGRAta [W/s]</text>
</g>
<polyline points="219.7,631.3 220.7,631.3 221.7,631.3 222.7,631.3 223.7,631.3 224.7,631.3 225.7,631.3 226.7,631.3 227.8,631.3 228.8,631.3 229.8,631.3 230.8,631.3 231.8,631.3 232.8,631.3 233.8,631.3 234.9,631.3 235.9,631.3 236.9,631.3 237.9,631.3 238.9,631.3 239.9,631.3 240.9,631.3 241.9,631.3 243.0,631.3 244.0,631.3 245.0,631.3 246.0,631.3 247.0,631.3 248.0,631.3 249.0,631.3 250.1,631.3 251.1,631.3 252.1,631.3 253.1,631.3 254.1,631.3 255.1,631.3 256.1,631.3 257.1,631.3 258.2,631.3 259.2,631.3 260.2,631.3 261.2,631.3 262.2,631.3 263.2,631.3 264.2,631.3 265.3,631.3 266.3,631.3 267.3,631.3 268.3,631.3 269.3,631.3 270.3,631.3 271.3,631.3 272.3,631.3 273.4,631.3 274.4,631.3 275.4,631.3 276.4,631.3 277.9,620.6 279.3,609.9 281.3,591.9 282.2,585.7 283.2,582.7 284.2,583.7 285.2,574.9 286.1,563.2 287.1,559.3 288.1,548.6 289.1,533.0 289.6,516.4 289.9,506.6 290.5,506.1 291.5,508.6 292.5,511.5 294.0,512.5 294.9,519.3 295.4,531.0 295.9,538.8 296.9,539.8 298.1,539.8 299.3,546.6 300.3,550.5 301.8,548.6 302.5,560.0 303.3,569.9 304.1,579.1 304.8,583.6 305.4,582.4 306.2,581.5 306.6,584.9 307.3,591.1 308.3,592.3 309.5,593.1 310.4,590.7 311.2,588.2 312.0,590.7 313.3,591.1 314.1,591.9 314.9,591.5 315.7,592.7 317.4,596.0 318.6,592.3 319.9,587.3 321.5,583.6 322.4,585.7 323.2,589.8 324.4,596.5 325.3,593.1 326.5,591.5 327.3,592.3 328.2,590.7 329.0,589.4 329.8,588.2 330.7,591.9 331.5,589.8 332.7,582.4 333.6,579.1 334.4,580.7 335.2,582.0 336.0,581.5 336.9,584.9 337.7,587.3 338.5,588.6 339.4,587.8 340.2,589.8 341.0,586.9 341.9,588.6 342.7,584.0 343.5,587.3 344.3,596.5 345.6,604.8 346.8,605.6 348.1,607.7 348.9,607.2 350.1,597.3 351.4,591.5 352.2,591.9 353.5,594.8 354.7,596.5 355.9,593.1 357.2,589.0 358.8,588.6 360.0,591.1 360.8,584.9 361.7,586.5 362.5,585.7 363.3,582.4 364.1,579.9 365.4,577.4 366.6,582.4 367.5,585.7 368.3,593.1 369.1,601.4 369.9,608.9 370.8,608.9 371.6,600.6 372.4,599.0 373.3,598.1 374.1,591.5 374.9,576.6 375.7,568.3 376.6,567.9 377.4,570.8 377.8,574.9 378.6,575.3 379.5,576.6 380.3,584.0 381.1,594.8 382.0,596.9 382.8,596.5 383.6,590.7 384.4,584.0 385.3,587.3 386.1,587.8 386.9,584.9 387.8,584.9 388.6,591.5 389.4,595.6 390.2,594.8 391.1,591.5 391.9,590.7 392.7,590.2 393.6,589.0 394.4,584.0 395.2,583.2 396.0,584.0 396.9,584.4 397.7,587.3 398.5,588.6 399.4,589.8 400.2,590.7 401.0,592.3 401.9,592.7 402.7,593.6 403.5,590.7 404.3,589.0 405.2,588.2 406.0,586.1 407.2,584.9 408.1,586.1 408.9,587.3 409.7,588.2 410.6,592.3 411.4,598.1 412.2,603.1 413.0,607.2 413.9,606.4 414.7,605.2 415.5,603.1 416.4,600.6 417.2,594.8 418.0,587.3 418.8,581.5 420.0,583.2 420.8,582.4 421.7,580.7 422.5,577.4 423.3,578.6 424.1,583.2 425.0,586.5 425.8,585.7 426.6,584.0 427.5,582.8 428.3,579.9 429.1,576.2 429.9,580.7 430.8,582.4 431.6,581.1 432.4,580.7 433.3,582.0 434.1,585.7 434.9,591.5 435.7,589.0 436.6,590.2 437.4,591.9 438.2,593.1 439.1,598.1 439.9,608.9 440.7,609.7 441.5,608.1 442.4,605.6 443.2,604.8 444.0,603.9 444.9,597.3 445.7,590.7 446.5,584.9 447.3,582.0 448.2,579.9 449.0,578.2 449.8,577.0 450.7,576.2 451.5,574.9 452.3,573.3 453.1,575.3 454.0,576.6 454.8,580.7 455.6,577.8 456.5,577.0 457.3,576.6 458.1,577.4 459.0,577.8 459.8,579.9 460.6,583.2 461.4,586.5 462.3,591.5 462.7,593.1 463.5,590.7 464.3,589.8 465.2,589.4 466.0,589.0 466.8,589.8 467.7,591.1 468.5,592.3 469.3,593.1 470.1,593.6 471.0,592.7 471.8,594.8 472.6,595.6 473.5,590.7 474.3,589.0 475.1,591.1 475.9,590.7 476.8,589.8 477.6,584.9 478.4,583.2 479.3,594.8 479.8,595.2 480.5,596.6 481.2,598.1 482.0,595.2 482.7,593.0 483.8,592.2 484.5,586.4 485.3,579.8 486.0,582.0 486.7,584.9 487.5,587.9 488.2,590.8 488.9,593.0 489.7,596.6 490.4,601.0 491.1,601.8 491.9,598.1 492.6,593.7 493.3,592.2 494.4,591.5 495.5,590.8 496.3,588.6 497.0,584.2 497.7,581.3 498.5,587.1 499.2,589.3 499.9,590.8 500.7,592.2 501.8,593.7 502.5,595.2 503.2,601.0 503.9,605.4 504.7,603.2 505.4,599.6 506.1,594.4 506.9,587.9 507.6,582.7 508.3,586.4 509.1,582.0 509.8,576.9 510.5,576.1 511.3,579.8 512.0,587.9 512.4,604.0 512.7,631.1" fill="none" stroke="#b04542" stroke-width="1.5" stroke-linejoin="round" stroke-linecap="round"/>
<polyline points="219.7,631.3 220.7,631.3 221.7,631.3 222.7,631.3 223.7,631.3 224.7,631.3 225.7,631.3 226.7,631.3 227.8,631.3 228.8,631.3 229.8,631.3 230.8,631.3 231.8,631.3 232.8,631.3 233.8,631.3 234.9,631.3 235.9,631.3 236.9,631.3 237.9,631.3 238.9,631.3 239.9,631.3 240.9,631.3 241.9,631.3 243.0,631.3 244.0,631.3 245.0,631.3 246.0,631.3 247.0,631.3 248.0,631.3 249.0,631.3 250.1,631.3 251.1,631.3 252.1,631.3 253.1,631.3 254.1,631.3 255.1,631.3 256.1,631.3 257.1,631.3 258.2,631.3 259.2,631.3 260.2,631.3 261.2,631.3 262.2,631.3 263.2,631.3 264.2,631.3 265.3,631.3 266.3,631.3 267.3,631.3 268.3,631.3 269.3,631.3 270.3,631.3 271.3,631.3 272.3,631.3 273.4,631.3 274.4,631.3 275.4,631.3 276.4,631.3 278.3,591.9 278.6,568.1 279.8,565.2 280.8,559.3 281.3,540.8 281.8,533.0 282.2,528.1 282.7,530.0 283.2,538.8 283.9,548.6 284.5,546.6 285.2,538.8 286.1,534.9 287.1,534.0 288.1,531.0 288.8,519.3 289.4,506.6 290.0,505.7 291.0,507.6 291.5,515.4 292.5,525.2 293.5,531.0 294.4,540.8 295.4,565.2 296.9,569.1 298.3,574.9 299.3,581.8 301.3,585.7 302.5,589.0 302.9,593.1 303.7,601.4 304.1,605.0 305.0,607.5 306.2,608.3 307.0,612.4 307.9,614.1 309.1,614.9 310.8,613.7 312.0,615.3 313.3,616.2 314.9,617.0 316.2,617.8 317.4,619.1 318.6,617.4 320.3,616.6 321.5,617.0 322.8,618.6 324.0,620.3 325.7,619.9 327.3,620.3 329.0,619.9 330.7,620.7 332.3,619.5 333.6,618.6 334.8,619.5 336.0,619.9 337.3,621.1 339.0,621.5 340.6,622.0 342.3,621.5 343.5,622.8 344.8,624.4 346.4,625.7 348.1,626.5 349.3,626.1 350.1,624.9 351.4,623.6 353.0,624.0 354.7,624.4 356.4,624.0 358.0,624.0 360.0,624.0 361.7,623.6 363.3,622.8 364.4,622.5 365.4,622.4 366.6,623.6 367.9,625.3 369.1,627.3 369.9,628.2 371.2,626.9 372.8,626.5 374.1,624.9 375.3,622.8 376.2,622.0 377.4,622.4 378.6,623.6 379.9,624.9 381.1,626.5 382.4,626.5 383.6,625.7 384.9,624.9 386.1,624.9 387.3,625.3 389.0,626.1 390.7,626.5 392.3,626.1 394.0,625.7 395.6,625.3 397.3,625.7 399.0,626.5 400.6,626.9 402.3,626.9 403.9,626.5 405.6,626.5 407.2,626.4 408.9,626.5 410.6,627.3 412.2,628.6 413.5,629.0 414.7,628.6 416.4,627.3 418.0,626.5 420.0,626.5 421.2,626.3 422.5,626.1 423.7,626.7 425.0,626.9 426.1,626.9 427.2,626.5 428.3,626.5 429.4,626.5 430.5,626.5 431.6,626.5 432.8,626.7 434.1,626.9 435.3,627.0 436.6,627.3 437.8,628.0 439.1,628.6 440.7,629.2 441.8,629.1 442.8,629.0 443.8,628.7 444.9,628.2 446.5,627.3 447.8,627.2 449.0,626.9 450.2,626.9 451.5,626.7 452.7,626.7 454.0,626.9 455.2,627.0 456.5,626.7 457.7,626.6 459.0,626.9 460.2,627.5 461.4,627.8 462.7,627.9 463.9,628.2 465.2,628.2 466.4,628.3 467.5,628.4 468.6,628.4 469.7,628.6 470.8,628.6 471.9,628.6 473.0,628.6 474.1,628.7 475.2,628.2 476.4,628.3 477.6,628.5 478.8,628.6 480.5,628.3 482.3,628.2 483.8,627.9 485.3,627.8 486.7,628.2 488.2,628.5 489.3,628.7 490.4,629.3 491.9,628.9 493.3,628.5 494.5,628.3 495.8,627.9 497.0,627.8 498.5,628.3 499.9,628.5 501.4,628.9 502.9,629.3 503.6,630.4 504.3,630.7 505.4,630.9 506.4,630.9 507.5,630.7 508.5,630.8 509.6,630.9 510.6,631.0 511.6,630.9" fill="none" stroke="#4a7ebb" stroke-width="1.4" stroke-linejoin="round" stroke-linecap="round"/>
<line x1="368.8" y1="508.5" x2="392.6" y2="508.5" stroke="#b04542" stroke-width="1.6"/>
<text x="395.4" y="511.3" font-size="8.2" font-family='"Liberation Sans", Arial, sans-serif' fill="#1a1a1a">HRRav [kW]</text>
<line x1="368.8" y1="529.2" x2="392.6" y2="529.2" stroke="#4a7ebb" stroke-width="1.6"/>
<text x="395.4" y="532.0" font-size="8.2" font-family='"Liberation Sans", Arial, sans-serif' fill="#1a1a1a">FIGRAta no treshold [W/s]</text>
<rect x="184.9" y="687.6" width="370.70000000000005" height="194.39999999999998" stroke="#8c8c8c" stroke-width="1.4" fill="#fff"/>
<line x1="222.75" y1="830.9699999999999" x2="519.3" y2="830.9699999999999" stroke="#a8a8a8" stroke-width="1.0"/>
<line x1="222.75" y1="810.14" x2="519.3" y2="810.14" stroke="#a8a8a8" stroke-width="1.0"/>
<line x1="222.75" y1="789.31" x2="519.3" y2="789.31" stroke="#a8a8a8" stroke-width="1.0"/>
<line x1="222.75" y1="768.4799999999999" x2="519.3" y2="768.4799999999999" stroke="#a8a8a8" stroke-width="1.0"/>
<line x1="222.75" y1="747.65" x2="519.3" y2="747.65" stroke="#a8a8a8" stroke-width="1.0"/>
<line x1="222.75" y1="726.8199999999999" x2="519.3" y2="726.8199999999999" stroke="#a8a8a8" stroke-width="1.0"/>
<line x1="222.75" y1="705.99" x2="519.3" y2="705.99" stroke="#a8a8a8" stroke-width="1.0"/>
<line x1="281.881" y1="706.0" x2="281.881" y2="853.8" stroke="#a8a8a8" stroke-width="1"/>
<line x1="338.512" y1="706.0" x2="338.512" y2="853.8" stroke="#a8a8a8" stroke-width="1"/>
<line x1="395.14300000000003" y1="706.0" x2="395.14300000000003" y2="853.8" stroke="#a8a8a8" stroke-width="1"/>
<line x1="451.774" y1="706.0" x2="451.774" y2="853.8" stroke="#a8a8a8" stroke-width="1"/>
<line x1="508.405" y1="706.0" x2="508.405" y2="853.8" stroke="#a8a8a8" stroke-width="1"/>
<line x1="225.25" y1="706.0" x2="225.25" y2="851.8" stroke="#b8b8b8" stroke-width="1"/>
<line x1="519.3" y1="706.0" x2="519.3" y2="851.8" stroke="#b8b8b8" stroke-width="1"/>
<line x1="222.75" y1="851.8" x2="519.3" y2="851.8" stroke="#b8b8b8" stroke-width="1.2"/>
<line x1="225.25" y1="851.8" x2="225.25" y2="853.8" stroke="#b8b8b8" stroke-width="1"/>
<line x1="519.3" y1="851.8" x2="521.8" y2="851.8" stroke="#b8b8b8" stroke-width="1"/>
<line x1="519.3" y1="837.2199999999999" x2="521.8" y2="837.2199999999999" stroke="#b8b8b8" stroke-width="1"/>
<line x1="519.3" y1="822.64" x2="521.8" y2="822.64" stroke="#b8b8b8" stroke-width="1"/>
<line x1="519.3" y1="808.06" x2="521.8" y2="808.06" stroke="#b8b8b8" stroke-width="1"/>
<line x1="519.3" y1="793.4799999999999" x2="521.8" y2="793.4799999999999" stroke="#b8b8b8" stroke-width="1"/>
<line x1="519.3" y1="778.9" x2="521.8" y2="778.9" stroke="#b8b8b8" stroke-width="1"/>
<line x1="519.3" y1="764.3199999999999" x2="521.8" y2="764.3199999999999" stroke="#b8b8b8" stroke-width="1"/>
<line x1="519.3" y1="749.7399999999999" x2="521.8" y2="749.7399999999999" stroke="#b8b8b8" stroke-width="1"/>
<line x1="519.3" y1="735.16" x2="521.8" y2="735.16" stroke="#b8b8b8" stroke-width="1"/>
<line x1="519.3" y1="720.5799999999999" x2="521.8" y2="720.5799999999999" stroke="#b8b8b8" stroke-width="1"/>
<line x1="519.3" y1="706.0" x2="521.8" y2="706.0" stroke="#b8b8b8" stroke-width="1"/>
<text x="219.4" y="854.2" font-size="6.3" font-family='"Liberation Sans", Arial, sans-serif' text-anchor="end" fill="#262626">0</text>
<text x="219.4" y="833.37" font-size="6.3" font-family='"Liberation Sans", Arial, sans-serif' text-anchor="end" fill="#262626">0,01</text>
<text x="219.4" y="812.54" font-size="6.3" font-family='"Liberation Sans", Arial, sans-serif' text-anchor="end" fill="#262626">0,02</text>
<text x="219.4" y="791.71" font-size="6.3" font-family='"Liberation Sans", Arial, sans-serif' text-anchor="end" fill="#262626">0,03</text>
<text x="219.4" y="770.88" font-size="6.3" font-family='"Liberation Sans", Arial, sans-serif' text-anchor="end" fill="#262626">0,04</text>
<text x="219.4" y="750.05" font-size="6.3" font-family='"Liberation Sans", Arial, sans-serif' text-anchor="end" fill="#262626">0,05</text>
<text x="219.4" y="729.22" font-size="6.3" font-family='"Liberation Sans", Arial, sans-serif' text-anchor="end" fill="#262626">0,06</text>
<text x="219.4" y="708.39" font-size="6.3" font-family='"Liberation Sans", Arial, sans-serif' text-anchor="end" fill="#262626">0,07</text>
<text x="524.6" y="854.2" font-size="6.3" font-family='"Liberation Sans", Arial, sans-serif' fill="#262626">0</text>
<text x="524.6" y="839.62" font-size="6.3" font-family='"Liberation Sans", Arial, sans-serif' fill="#262626">0,1</text>
<text x="524.6" y="825.04" font-size="6.3" font-family='"Liberation Sans", Arial, sans-serif' fill="#262626">0,2</text>
<text x="524.6" y="810.46" font-size="6.3" font-family='"Liberation Sans", Arial, sans-serif' fill="#262626">0,3</text>
<text x="524.6" y="795.88" font-size="6.3" font-family='"Liberation Sans", Arial, sans-serif' fill="#262626">0,4</text>
<text x="524.6" y="781.3" font-size="6.3" font-family='"Liberation Sans", Arial, sans-serif' fill="#262626">0,5</text>
<text x="524.6" y="766.72" font-size="6.3" font-family='"Liberation Sans", Arial, sans-serif' fill="#262626">0,6</text>
<text x="524.6" y="752.14" font-size="6.3" font-family='"Liberation Sans", Arial, sans-serif' fill="#262626">0,7</text>
<text x="524.6" y="737.56" font-size="6.3" font-family='"Liberation Sans", Arial, sans-serif' fill="#262626">0,8</text>
<text x="524.6" y="722.98" font-size="6.3" font-family='"Liberation Sans", Arial, sans-serif' fill="#262626">0,9</text>
<text x="524.6" y="708.4" font-size="6.3" font-family='"Liberation Sans", Arial, sans-serif' fill="#262626">1</text>
<text x="225.45" y="861.8" font-size="6.3" font-family='"Liberation Sans", Arial, sans-serif' text-anchor="middle" fill="#262626">0</text>
<text x="281.88" y="861.8" font-size="6.3" font-family='"Liberation Sans", Arial, sans-serif' text-anchor="middle" fill="#262626">300</text>
<text x="338.51" y="861.8" font-size="6.3" font-family='"Liberation Sans", Arial, sans-serif' text-anchor="middle" fill="#262626">600</text>
<text x="395.14" y="861.8" font-size="6.3" font-family='"Liberation Sans", Arial, sans-serif' text-anchor="middle" fill="#262626">900</text>
<text x="451.77" y="861.8" font-size="6.3" font-family='"Liberation Sans", Arial, sans-serif' text-anchor="middle" fill="#262626">1200</text>
<text x="508.4" y="861.8" font-size="6.3" font-family='"Liberation Sans", Arial, sans-serif' text-anchor="middle" fill="#262626">1500</text>
<text x="371.4" y="875.9" font-size="8.5" font-family='"Liberation Sans", Arial, sans-serif' font-weight="bold" text-anchor="middle" fill="#000">Süre [s]</text>
<g transform="translate(198.4,787.0) rotate(-90)">
<text x="0" y="0" font-size="8.5" font-family='"Liberation Sans", Arial, sans-serif' font-weight="bold" text-anchor="middle" fill="#000">SPRav [m³/s]</text>
</g>
<g transform="translate(547.5,779.7) rotate(-90)">
<text x="0" y="0" font-size="8.5" font-family='"Liberation Sans", Arial, sans-serif' font-weight="bold" text-anchor="middle" fill="#000">SMOGRAta [m²/s²]</text>
</g>
<polyline points="225.2,851.8 226.3,851.8 227.3,851.8 228.3,851.8 229.3,851.8 230.3,851.8 231.3,851.8 232.3,851.8 233.3,851.8 234.3,851.8 235.3,851.8 236.3,851.8 237.3,851.8 238.3,851.8 239.3,851.8 240.3,851.8 241.4,851.8 242.4,851.8 243.4,851.8 244.4,851.8 245.4,851.8 246.4,851.8 247.4,851.8 248.4,851.8 249.4,851.8 250.4,851.8 251.4,851.8 252.4,851.8 253.4,851.8 254.4,851.8 255.4,851.8 256.5,851.8 257.5,851.8 258.5,851.8 259.5,851.8 260.5,851.8 261.5,851.8 262.5,851.8 263.5,851.8 264.5,851.8 265.5,851.8 266.5,851.8 267.5,851.8 268.5,851.8 269.5,851.8 270.5,851.8 271.6,851.8 272.6,851.8 273.6,851.8 274.6,851.8 275.6,851.8 276.6,851.8 277.6,851.8 278.6,851.8 279.6,851.8 280.6,851.8 281.6,851.8 282.6,851.8 283.6,851.8 284.6,851.8 285.6,851.8 286.6,851.8 287.7,851.8 288.7,851.8 289.7,851.8 290.9,840.9 292.1,830.0 293.3,819.2 294.5,808.3 295.8,794.8 297.1,781.2 298.4,767.7 299.8,754.6 301.3,741.6 302.8,735.8 304.2,725.1 306.1,727.1 308.0,729.0 309.0,728.0 310.9,731.9 312.9,732.9 313.8,730.0 315.8,732.9 317.7,733.8 319.6,736.7 321.6,735.8 323.5,738.7 325.4,751.2 327.4,755.1 328.8,756.8 330.3,759.0 332.2,761.9 334.1,766.7 336.1,765.7 338.0,768.6 339.9,766.7 341.5,768.6 342.7,770.1 343.8,772.5 345.7,769.6 347.7,774.4 349.1,775.3 350.6,776.4 352.5,777.3 354.4,779.3 356.4,778.3 357.8,777.5 359.3,776.4 361.2,773.5 363.1,774.4 365.1,773.5 367.0,773.5 369.0,776.4 370.9,779.3 372.8,783.1 374.8,782.2 376.7,778.3 378.6,779.3 380.6,779.3 382.5,780.2 383.9,783.1 385.4,785.1 386.8,788.5 388.3,791.9 390.2,790.9 392.2,788.0 394.1,790.9 396.0,791.9 398.0,789.0 399.9,789.9 401.8,789.0 403.3,787.3 404.7,786.0 406.7,788.0 408.6,787.0 410.0,784.8 411.5,783.1 413.4,784.1 415.4,788.0 417.3,785.1 418.6,784.6 419.9,784.1 421.3,782.8 423.2,786.1 424.7,783.8 426.1,781.3 428.0,778.4 430.0,779.3 431.4,779.9 432.9,781.3 434.3,781.9 435.8,783.2 437.7,782.2 439.6,784.2 441.1,786.2 442.5,787.1 444.0,783.3 445.4,779.3 447.4,783.2 448.8,783.6 450.3,785.1 451.7,784.1 453.2,783.2 455.1,785.1 457.0,788.0 459.0,785.1 460.9,788.0 462.8,789.0 464.8,784.2 466.7,782.2 468.2,780.9 469.6,780.3 470.8,778.1 471.9,776.4 473.2,775.8 474.4,775.5 476.4,779.3 478.3,781.3 480.2,782.2 482.2,780.3 484.1,783.2 486.0,784.2 488.0,783.2 489.9,785.1 491.4,787.3 492.8,790.0 494.8,788.0 496.7,786.1 498.6,784.2 500.6,783.2 502.5,778.4 503.5,775.5 505.4,777.4 507.3,775.5 509.3,777.4 511.2,774.5 513.1,774.5 514.1,777.4 515.6,816.1 516.8,834.0 518.0,851.9" fill="none" stroke="#4a7ebb" stroke-width="1.5" stroke-linejoin="round" stroke-linecap="round"/>
<line x1="225.25" y1="851.8" x2="519.3" y2="851.8" stroke="#b5504e" stroke-width="1.7"/>
<line x1="370.5" y1="726.8" x2="393.7" y2="726.8" stroke="#4a7ebb" stroke-width="1.6"/>
<text x="396.0" y="729.6" font-size="8.2" font-family='"Liberation Sans", Arial, sans-serif' fill="#1a1a1a">SPRav [m³/s]</text>
<line x1="370.5" y1="744.8" x2="393.7" y2="744.8" stroke="#b04542" stroke-width="1.6"/>
<text x="396.0" y="747.6" font-size="8.2" font-family='"Liberation Sans", Arial, sans-serif' fill="#1a1a1a">SMOGRAta [m²/s²]</text>
<text x="184.2" y="468.6" font-size="12" font-family='"Liberation Serif", "Times New Roman", serif' textLength="366.2" lengthAdjust="spacingAndGlyphs" fill="#000">Şekil 1. Numune 1 için HRRav(t) , HRRav-30s ve THR değerlerinin grafiği</text>
<text x="201.2" y="682.3" font-size="12" font-family='"Liberation Serif", "Times New Roman", serif' textLength="331.8" lengthAdjust="spacingAndGlyphs" fill="#000">Şekil 2. Numune 1 için 1000 x HRRav(t)/(t-300) değerlerinin grafiği</text>
<text x="270.6" y="896.0" font-size="12" font-family='"Liberation Serif", "Times New Roman", serif' textLength="193.8" lengthAdjust="spacingAndGlyphs" fill="#000">Şekil 3. Numune 1 için SPRav(t) grafiği</text>
<text x="52.4" y="992.0" font-size="8.5" font-family='"Liberation Serif", "Times New Roman", serif' font-style="italic" textLength="100.3" lengthAdjust="spacingAndGlyphs" fill="#000">LAB-D-FR-36 / 11.06.2020-6</text>
<text x="653.6" y="990.7" font-size="12.2" font-family='"Liberation Sans", Arial, sans-serif' textLength="24.4" lengthAdjust="spacingAndGlyphs" fill="#222">3 / 6</text>
</svg>
</div></body></html>
